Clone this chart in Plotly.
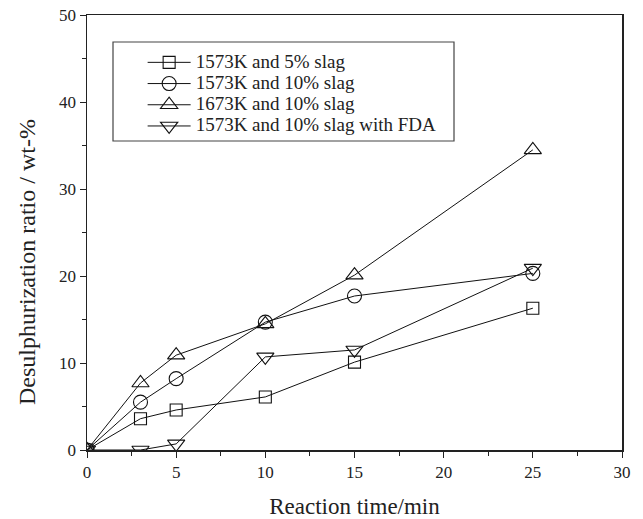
import plotly.graph_objects as go

time_min = [0, 3, 5, 10, 15, 25]
s_1573_5 = [0, 3.6, 4.6, 6.1, 10.1, 16.3]
s_1573_10 = [0, 5.5, 8.2, 14.7, 17.7, 20.3]
s_1673_10 = [0, 7.7, 10.9, 14.5, 20.1, 34.5]
s_1573_10_fda = [0, 0, 0.7, 10.7, 11.5, 20.9]

names = ["1573K and 5% slag", "1573K and 10% slag", "1673K and 10% slag",
         "1573K and 10% slag with FDA"]
symbols = ["square-open", "circle-open", "triangle-up-open", "triangle-down-open"]
sizes = [12, 14, 15, 15]
series = [s_1573_5, s_1573_10, s_1673_10, s_1573_10_fda]

x_title = "Reaction time/min"
y_title = "Desulphurization ratio / wt-%"

FONT = "Liberation Serif, Times New Roman, serif"

fig = go.Figure()
for nm, sym, sz, ys in zip(names, symbols, sizes, series):
    fig.add_trace(go.Scatter(
        x=time_min, y=ys, mode="lines+markers",
        name='<span style="font-size:19px">' + nm + '</span>',
        line=dict(color="#111", width=1),
        marker=dict(symbol=sym, size=sz, color="#111", line=dict(width=1.1)),
        cliponaxis=True,
    ))

axis_common = dict(
    showgrid=False, zeroline=False, showline=True, linecolor="#222", linewidth=1.5,
    mirror=True, ticks="outside", ticklen=6, tickwidth=1, tickcolor="#222",
    tickfont=dict(family=FONT, size=17, color="#222"),
    minor=dict(ticks="outside", ticklen=4, tickwidth=1, tickcolor="#222"),
    ticklabeloverflow="allow",
)

fig.update_layout(
    width=643, height=519,
    margin=dict(l=87, r=21, t=15, b=69, autoexpand=False),
    paper_bgcolor="white", plot_bgcolor="white",
    font=dict(family=FONT, size=16, color="#222"),
    showlegend=True,
    legend=dict(x=0.104, y=0.927, xanchor="left", yanchor="top",
                bgcolor="rgba(0,0,0,0)", borderwidth=0,
                font=dict(family=FONT, size=14, color="#222"),
                itemwidth=43, tracegroupgap=0),
    shapes=[dict(type="rect", xref="paper", yref="paper",
                 x0=(113 - 87) / 535, x1=(454 - 87) / 535,
                 y0=(450 - 141) / 435, y1=(450 - 42) / 435,
                 line=dict(color="#444", width=1.2), fillcolor="rgba(0,0,0,0)",
                 layer="below")],
    annotations=[dict(text=y_title, textangle=-90, xref="paper", yref="paper",
                      x=(27 - 87) / 535, y=(450 - 262) / 435,
                      xanchor="center", yanchor="middle", showarrow=False,
                      font=dict(family=FONT, size=24, color="#222"))],
)
fig.update_xaxes(range=[0, 30], dtick=5, minor_dtick=2.5,
                 title=dict(text=x_title, font=dict(family=FONT, size=23), standoff=18),
                 **axis_common)
fig.update_yaxes(range=[0, 50], dtick=10, minor_dtick=5, **axis_common)

fig.write_html("out.html",
               config={"displayModeBar": False, "staticPlot": True},
               post_script="document.body.style.margin='0';document.body.style.overflow='hidden';")
